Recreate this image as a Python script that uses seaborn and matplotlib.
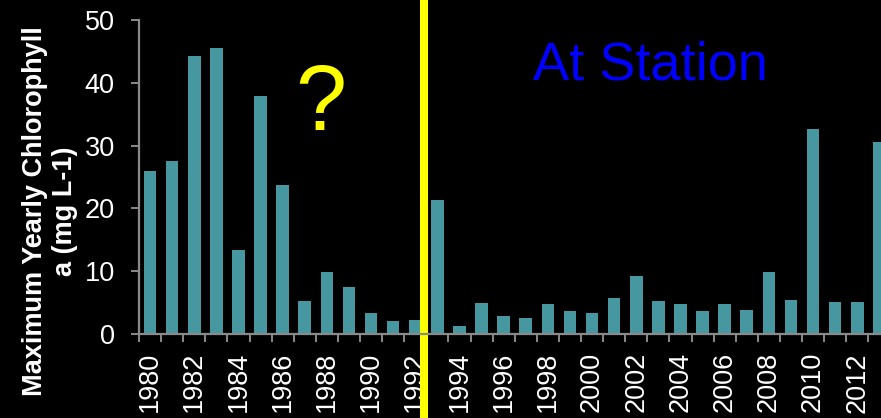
import numpy as np
import pandas as pd
import matplotlib
matplotlib.use("Agg")
import matplotlib.pyplot as plt
import seaborn as sns

years = list(range(1980, 2014))
chl_max = [26.0, 27.5, 44.3, 45.6, 13.4, 37.9, 23.7, 5.2, 9.9, 7.5, 3.3, 2.1, 2.3,
           21.3, 1.3, 4.9, 2.8, 2.5, 4.8, 3.6, 3.3, 5.7, 9.3, 5.3, 4.8, 3.7, 4.8,
           3.8, 9.9, 5.4, 32.6, 5.1, 5.1, 30.5]
tick_labels = [str(y) for y in years[::2]]
y_ticks = [0, 10, 20, 30, 40, 50]

sns.set_theme(style="dark")
plt.rcParams['font.family'] = ['Liberation Sans', 'DejaVu Sans']

df = pd.DataFrame({"year": [str(y) for y in years], "chl": chl_max})

fig = plt.figure(figsize=(8.81, 4.18), dpi=100, facecolor="black")
ax = fig.add_axes([139 / 881, 1 - 334 / 418, 751.4 / 881, 314 / 418])
ax.set_facecolor("black")

sns.barplot(data=df, x="year", y="chl", order=df["year"], color="#4797A0",
            saturation=1, width=0.57, ax=ax, edgecolor="none")

ax.set_xlim(-0.5, len(years) - 0.5)
ax.set_ylim(0, 50)
ax.grid(False)

gray = "#8A8A8A"
for s in ["top", "right"]:
    ax.spines[s].set_visible(False)
for s in ["left", "bottom"]:
    ax.spines[s].set_visible(True)
    ax.spines[s].set_color(gray)
    ax.spines[s].set_linewidth(1.6)

ax.set_xticks(np.arange(0, len(years), 2))
ax.set_xticklabels(tick_labels, rotation=90, fontsize=19.5, color="white")
ax.set_xticks(np.arange(-0.5, len(years), 1), minor=True)
ax.tick_params(axis="x", which="major", length=0, pad=13)
ax.tick_params(axis="x", which="minor", length=5.5, width=1.4, color=gray, bottom=True)

ax.set_yticks(y_ticks)
ax.set_yticklabels([str(v) for v in y_ticks], fontsize=19.5, color="white")
ax.tick_params(axis="y", which="major", length=6, width=1.4, color=gray, left=True, pad=11.5)

ax.set_xlabel("")
ax.set_ylabel("")

fig.text(50 / 881, 1 - 211 / 418, "Maximum Yearly Chlorophyll\na (mg L-1)",
         rotation=90, ha="center", va="center", multialignment="center",
         fontsize=19.5, fontweight="bold", color="white", linespacing=1.15)

# divider line between 1992 and 1993
ax.axvline(12.4, ymin=-0.4, ymax=1.2, color="#FFFF00", linewidth=5.8, clip_on=False)

fig.text(321 / 881, 1 - 130 / 418, "?", ha="center", va="baseline",
         fontsize=66, color="#FFFF00")
fig.text(650 / 881, 1 - 79 / 418, "At Station", ha="center", va="baseline",
         fontsize=39, color="#0000FF")

fig.savefig("out.png", dpi=100, facecolor="black")
